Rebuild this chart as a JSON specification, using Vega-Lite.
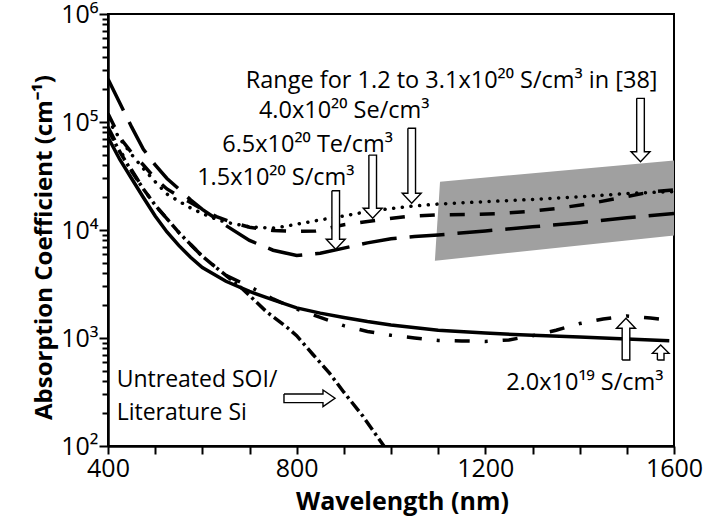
{
  "$schema": "https://vega.github.io/schema/vega-lite/v6.json",
  "width": 566,
  "height": 432,
  "autosize": {"type": "none"},
  "padding": {"left": 108, "top": 14, "right": 41, "bottom": 71},
  "background": "white",
  "config": {
    "view": {"stroke": "black", "strokeWidth": 2},
    "font": "Open Sans"
  },
  "datasets": {
    "band": [
      {"wl": 1093, "top": 5200, "bot": 5200},
      {"wl": 1104, "top": 28000, "bot": 5260},
      {"wl": 1600, "top": 44000, "bot": 8900}
    ],
    "curves": [
      {"s": "S15", "wl": 400, "a": 250000}, {"s": "S15", "wl": 425, "a": 150000}, {"s": "S15", "wl": 450, "a": 90000},
      {"s": "S15", "wl": 475, "a": 56000}, {"s": "S15", "wl": 500, "a": 40000}, {"s": "S15", "wl": 525, "a": 30000},
      {"s": "S15", "wl": 550, "a": 24000}, {"s": "S15", "wl": 575, "a": 19000}, {"s": "S15", "wl": 600, "a": 15500},
      {"s": "S15", "wl": 650, "a": 11000}, {"s": "S15", "wl": 700, "a": 8000}, {"s": "S15", "wl": 750, "a": 6500},
      {"s": "S15", "wl": 800, "a": 5800}, {"s": "S15", "wl": 850, "a": 6100}, {"s": "S15", "wl": 900, "a": 6800},
      {"s": "S15", "wl": 950, "a": 7600}, {"s": "S15", "wl": 1000, "a": 8300}, {"s": "S15", "wl": 1050, "a": 8700},
      {"s": "S15", "wl": 1100, "a": 9000}, {"s": "S15", "wl": 1200, "a": 9800}, {"s": "S15", "wl": 1300, "a": 10700},
      {"s": "S15", "wl": 1400, "a": 11700}, {"s": "S15", "wl": 1500, "a": 13000}, {"s": "S15", "wl": 1600, "a": 14200},

      {"s": "Te", "wl": 400, "a": 120000}, {"s": "Te", "wl": 425, "a": 72000}, {"s": "Te", "wl": 450, "a": 52000},
      {"s": "Te", "wl": 475, "a": 40000}, {"s": "Te", "wl": 500, "a": 30000}, {"s": "Te", "wl": 525, "a": 24000},
      {"s": "Te", "wl": 550, "a": 20500}, {"s": "Te", "wl": 575, "a": 18000}, {"s": "Te", "wl": 600, "a": 15500},
      {"s": "Te", "wl": 630, "a": 13300}, {"s": "Te", "wl": 665, "a": 11700}, {"s": "Te", "wl": 700, "a": 10600},
      {"s": "Te", "wl": 750, "a": 9900}, {"s": "Te", "wl": 800, "a": 9700}, {"s": "Te", "wl": 840, "a": 9800},
      {"s": "Te", "wl": 900, "a": 11200}, {"s": "Te", "wl": 970, "a": 12300}, {"s": "Te", "wl": 1030, "a": 13300},
      {"s": "Te", "wl": 1100, "a": 13800}, {"s": "Te", "wl": 1160, "a": 13900}, {"s": "Te", "wl": 1230, "a": 14200},
      {"s": "Te", "wl": 1290, "a": 14800}, {"s": "Te", "wl": 1350, "a": 15800}, {"s": "Te", "wl": 1420, "a": 17500},
      {"s": "Te", "wl": 1490, "a": 20000}, {"s": "Te", "wl": 1550, "a": 22500}, {"s": "Te", "wl": 1600, "a": 23500},

      {"s": "Se", "wl": 400, "a": 105000}, {"s": "Se", "wl": 425, "a": 70000}, {"s": "Se", "wl": 450, "a": 50000},
      {"s": "Se", "wl": 475, "a": 37000}, {"s": "Se", "wl": 500, "a": 28000}, {"s": "Se", "wl": 525, "a": 21500},
      {"s": "Se", "wl": 550, "a": 18500}, {"s": "Se", "wl": 575, "a": 16000}, {"s": "Se", "wl": 600, "a": 14200},
      {"s": "Se", "wl": 625, "a": 12800}, {"s": "Se", "wl": 650, "a": 11800}, {"s": "Se", "wl": 700, "a": 10700},
      {"s": "Se", "wl": 750, "a": 10400}, {"s": "Se", "wl": 775, "a": 10800}, {"s": "Se", "wl": 800, "a": 11300},
      {"s": "Se", "wl": 850, "a": 12400}, {"s": "Se", "wl": 900, "a": 13500}, {"s": "Se", "wl": 950, "a": 14800},
      {"s": "Se", "wl": 1000, "a": 15800}, {"s": "Se", "wl": 1050, "a": 16700}, {"s": "Se", "wl": 1100, "a": 17400},
      {"s": "Se", "wl": 1200, "a": 18300}, {"s": "Se", "wl": 1300, "a": 19200}, {"s": "Se", "wl": 1400, "a": 20300},
      {"s": "Se", "wl": 1450, "a": 21000}, {"s": "Se", "wl": 1500, "a": 21800}, {"s": "Se", "wl": 1600, "a": 22700},

      {"s": "solid", "wl": 400, "a": 72000}, {"s": "solid", "wl": 425, "a": 45000}, {"s": "solid", "wl": 450, "a": 30000},
      {"s": "solid", "wl": 475, "a": 20000}, {"s": "solid", "wl": 500, "a": 13500}, {"s": "solid", "wl": 525, "a": 9600},
      {"s": "solid", "wl": 550, "a": 7200}, {"s": "solid", "wl": 575, "a": 5600}, {"s": "solid", "wl": 600, "a": 4500},
      {"s": "solid", "wl": 650, "a": 3350}, {"s": "solid", "wl": 700, "a": 2700}, {"s": "solid", "wl": 750, "a": 2250},
      {"s": "solid", "wl": 800, "a": 1900}, {"s": "solid", "wl": 850, "a": 1700}, {"s": "solid", "wl": 900, "a": 1550},
      {"s": "solid", "wl": 950, "a": 1420}, {"s": "solid", "wl": 1000, "a": 1320}, {"s": "solid", "wl": 1100, "a": 1180},
      {"s": "solid", "wl": 1200, "a": 1110}, {"s": "solid", "wl": 1300, "a": 1060}, {"s": "solid", "wl": 1400, "a": 1020},
      {"s": "solid", "wl": 1500, "a": 980}, {"s": "solid", "wl": 1590, "a": 945},

      {"s": "dd", "wl": 400, "a": 90000}, {"s": "dd", "wl": 425, "a": 55000}, {"s": "dd", "wl": 450, "a": 36000},
      {"s": "dd", "wl": 475, "a": 24000}, {"s": "dd", "wl": 500, "a": 17000}, {"s": "dd", "wl": 550, "a": 9500},
      {"s": "dd", "wl": 600, "a": 5700}, {"s": "dd", "wl": 650, "a": 3800}, {"s": "dd", "wl": 700, "a": 3000},
      {"s": "dd", "wl": 750, "a": 2300}, {"s": "dd", "wl": 800, "a": 1850}, {"s": "dd", "wl": 850, "a": 1550},
      {"s": "dd", "wl": 900, "a": 1300}, {"s": "dd", "wl": 950, "a": 1150}, {"s": "dd", "wl": 1000, "a": 1060},
      {"s": "dd", "wl": 1050, "a": 1000}, {"s": "dd", "wl": 1100, "a": 950}, {"s": "dd", "wl": 1150, "a": 940},
      {"s": "dd", "wl": 1200, "a": 930}, {"s": "dd", "wl": 1250, "a": 960}, {"s": "dd", "wl": 1300, "a": 1050},
      {"s": "dd", "wl": 1350, "a": 1180}, {"s": "dd", "wl": 1400, "a": 1360}, {"s": "dd", "wl": 1450, "a": 1500},
      {"s": "dd", "wl": 1500, "a": 1600}, {"s": "dd", "wl": 1550, "a": 1530}, {"s": "dd", "wl": 1590, "a": 1460},

      {"s": "Si", "wl": 400, "a": 85000}, {"s": "Si", "wl": 425, "a": 53000}, {"s": "Si", "wl": 450, "a": 35000},
      {"s": "Si", "wl": 475, "a": 24000}, {"s": "Si", "wl": 500, "a": 17000}, {"s": "Si", "wl": 550, "a": 9500},
      {"s": "Si", "wl": 600, "a": 5700}, {"s": "Si", "wl": 650, "a": 3800}, {"s": "Si", "wl": 687, "a": 2800},
      {"s": "Si", "wl": 736, "a": 1750}, {"s": "Si", "wl": 780, "a": 1250}, {"s": "Si", "wl": 800, "a": 1050},
      {"s": "Si", "wl": 835, "a": 700}, {"s": "Si", "wl": 870, "a": 470}, {"s": "Si", "wl": 900, "a": 315},
      {"s": "Si", "wl": 940, "a": 190}, {"s": "Si", "wl": 985, "a": 100}
    ],
    "arrows": [
      {"id": "range", "k": 0, "wl": 1520.9, "a": 165600}, {"id": "range", "k": 1, "wl": 1537.1, "a": 165600},
      {"id": "range", "k": 2, "wl": 1537.1, "a": 53100}, {"id": "range", "k": 3, "wl": 1549.1, "a": 53100},
      {"id": "range", "k": 4, "wl": 1529, "a": 42900}, {"id": "range", "k": 5, "wl": 1508.9, "a": 53100},
      {"id": "range", "k": 6, "wl": 1520.9, "a": 53100}, {"id": "range", "k": 7, "wl": 1520.9, "a": 165600},

      {"id": "se", "k": 0, "wl": 1035.8, "a": 87500}, {"id": "se", "k": 1, "wl": 1052.0, "a": 87500},
      {"id": "se", "k": 2, "wl": 1052.0, "a": 21900}, {"id": "se", "k": 3, "wl": 1064.0, "a": 21900},
      {"id": "se", "k": 4, "wl": 1043.9, "a": 17670}, {"id": "se", "k": 5, "wl": 1023.8, "a": 21900},
      {"id": "se", "k": 6, "wl": 1035.8, "a": 21900}, {"id": "se", "k": 7, "wl": 1035.8, "a": 87500},

      {"id": "te", "k": 0, "wl": 953.1, "a": 49400}, {"id": "te", "k": 1, "wl": 969.3, "a": 49400},
      {"id": "te", "k": 2, "wl": 969.3, "a": 15900}, {"id": "te", "k": 3, "wl": 981.3, "a": 15900},
      {"id": "te", "k": 4, "wl": 961.2, "a": 12830}, {"id": "te", "k": 5, "wl": 941.1, "a": 15900},
      {"id": "te", "k": 6, "wl": 953.1, "a": 15900}, {"id": "te", "k": 7, "wl": 953.1, "a": 49400},

      {"id": "s15", "k": 0, "wl": 874.7, "a": 23100}, {"id": "s15", "k": 1, "wl": 890.9, "a": 23100},
      {"id": "s15", "k": 2, "wl": 890.9, "a": 8200}, {"id": "s15", "k": 3, "wl": 902.9, "a": 8200},
      {"id": "s15", "k": 4, "wl": 882.8, "a": 6620}, {"id": "s15", "k": 5, "wl": 862.7, "a": 8200},
      {"id": "s15", "k": 6, "wl": 874.7, "a": 8200}, {"id": "s15", "k": 7, "wl": 874.7, "a": 23100},

      {"id": "up1", "k": 0, "wl": 1490.1, "a": 625}, {"id": "up1", "k": 1, "wl": 1506.3, "a": 625},
      {"id": "up1", "k": 2, "wl": 1506.3, "a": 1230}, {"id": "up1", "k": 3, "wl": 1518.3, "a": 1230},
      {"id": "up1", "k": 4, "wl": 1498.2, "a": 1520}, {"id": "up1", "k": 5, "wl": 1478.1, "a": 1230},
      {"id": "up1", "k": 6, "wl": 1490.1, "a": 1230}, {"id": "up1", "k": 7, "wl": 1490.1, "a": 625},

      {"id": "up2", "k": 0, "wl": 1564.8, "a": 625}, {"id": "up2", "k": 1, "wl": 1578.8, "a": 625},
      {"id": "up2", "k": 2, "wl": 1578.8, "a": 721}, {"id": "up2", "k": 3, "wl": 1589.4, "a": 721},
      {"id": "up2", "k": 4, "wl": 1571.8, "a": 861}, {"id": "up2", "k": 5, "wl": 1554.2, "a": 721},
      {"id": "up2", "k": 6, "wl": 1564.8, "a": 721}, {"id": "up2", "k": 7, "wl": 1564.8, "a": 625},

      {"id": "right", "k": 0, "wl": 773.1, "a": 303}, {"id": "right", "k": 1, "wl": 855.8, "a": 303},
      {"id": "right", "k": 2, "wl": 855.8, "a": 330}, {"id": "right", "k": 3, "wl": 881.3, "a": 276.5},
      {"id": "right", "k": 4, "wl": 855.8, "a": 231.7}, {"id": "right", "k": 5, "wl": 855.8, "a": 252},
      {"id": "right", "k": 6, "wl": 773.1, "a": 252}, {"id": "right", "k": 7, "wl": 773.1, "a": 303}
    ],
    "labels": [
      {"t": "Range for 1.2 to 3.1x10²⁰ S/cm³ in [38]", "wl": 1128.6, "a": 207000, "pos": "center"},
      {"t": "4.0x10²⁰ Se/cm³", "wl": 900.7, "a": 108000, "pos": "center"},
      {"t": "6.5x10²⁰ Te/cm³", "wl": 823, "a": 53100, "pos": "center"},
      {"t": "1.5x10²⁰ S/cm³", "wl": 755.8, "a": 26100, "pos": "center"},
      {"t": "2.0x10¹⁹ S/cm³", "wl": 1411, "a": 330, "pos": "center"},
      {"t": "Untreated SOI/", "wl": 418.4, "a": 354, "pos": "left"},
      {"t": "Literature Si", "wl": 418.4, "a": 174, "pos": "left"}
    ]
  },
  "encoding": {
    "x": {
      "field": "wl", "type": "quantitative",
      "scale": {"domain": [400, 1600], "nice": false, "zero": false},
      "axis": {
        "title": "Wavelength (nm)",
        "values": [400, 500, 600, 700, 800, 900, 1000, 1100, 1200, 1300, 1400, 1500, 1600],
        "format": "d",
        "labelExpr": "datum.value % 400 == 0 ? datum.label : ''",
        "grid": false, "tickSize": 8, "tickWidth": 2, "tickColor": "black",
        "domainColor": "black", "domainWidth": 2.5,
        "labelFont": "Open Sans", "labelFontSize": 25, "labelColor": "black", "labelPadding": 2,
        "labelFlush": false, "labelOverlap": false,
        "titleFont": "Open Sans", "titleFontSize": 25, "titleFontWeight": "bold", "titleColor": "black",
        "titleX": 294, "titleY": 63, "titleBaseline": "alphabetic", "titleAlign": "center"
      }
    },
    "y": {
      "field": "a", "type": "quantitative",
      "scale": {"type": "log", "domain": [100, 1000000], "nice": false},
      "axis": {
        "title": "Absorption Coefficient (cm⁻¹)",
        "values": [100, 200, 300, 400, 500, 600, 700, 800, 900, 1000, 2000, 3000, 4000, 5000, 6000, 7000, 8000, 9000, 10000, 20000, 30000, 40000, 50000, 60000, 70000, 80000, 90000, 100000, 200000, 300000, 400000, 500000, 600000, 700000, 800000, 900000, 1000000],
        "labelExpr": "datum.value == 100 ? '10²' : datum.value == 1000 ? '10³' : datum.value == 10000 ? '10⁴' : datum.value == 100000 ? '10⁵' : datum.value == 1000000 ? '10⁶' : ''",
        "grid": false,
        "tickSize": {"condition": {"test": "datum.value == 100 || datum.value == 1000 || datum.value == 10000 || datum.value == 100000 || datum.value == 1000000", "value": 9}, "value": 6},
        "tickWidth": 2, "tickColor": "black",
        "domainColor": "black", "domainWidth": 2.5,
        "labelFont": "Open Sans", "labelFontSize": 25, "labelColor": "black", "labelPadding": 1,
        "labelFlush": false, "labelOverlap": false,
        "titleFont": "Open Sans", "titleFontSize": 24, "titleFontWeight": "bold", "titleColor": "black",
        "titleX": -57, "titleY": 233, "titleBaseline": "alphabetic", "titleAlign": "center", "titleAngle": -90
      }
    }
  },
  "layer": [
    {
      "data": {"name": "band"},
      "mark": {"type": "area", "color": "#a0a0a0", "opacity": 1, "clip": true},
      "encoding": {"y": {"field": "top", "type": "quantitative"}, "y2": {"field": "bot"}}
    },
    {
      "data": {"name": "curves"},
      "transform": [{"filter": "datum.s == 'solid'"}],
      "mark": {"type": "line", "color": "black", "strokeWidth": 3.5, "clip": true}
    },
    {
      "data": {"name": "curves"},
      "transform": [{"filter": "datum.s == 'dd'"}],
      "mark": {"type": "line", "color": "black", "strokeWidth": 3.5, "strokeDash": [15, 15, 3, 15], "clip": true}
    },
    {
      "data": {"name": "curves"},
      "transform": [{"filter": "datum.s == 'Si'"}],
      "mark": {"type": "line", "color": "black", "strokeWidth": 3.5, "strokeDash": [12, 4, 3, 4], "clip": true}
    },
    {
      "data": {"name": "curves"},
      "transform": [{"filter": "datum.s == 'S15'"}],
      "mark": {"type": "line", "color": "black", "strokeWidth": 3.5, "strokeDash": [35, 13], "clip": true}
    },
    {
      "data": {"name": "curves"},
      "transform": [{"filter": "datum.s == 'Te'"}],
      "mark": {"type": "line", "color": "black", "strokeWidth": 3.5, "strokeDash": [15, 15], "clip": true}
    },
    {
      "data": {"name": "curves"},
      "transform": [{"filter": "datum.s == 'Se'"}],
      "mark": {"type": "line", "color": "black", "strokeWidth": 3.5, "strokeCap": "round", "strokeDash": [0.1, 8.6], "clip": true}
    },
    {
      "data": {"name": "arrows"},
      "mark": {"type": "line", "stroke": "black", "fill": "white", "strokeWidth": 1.4, "strokeJoin": "miter"},
      "encoding": {"detail": {"field": "id"}, "order": {"field": "k", "type": "quantitative"}}
    },
    {
      "data": {"name": "labels"},
      "transform": [{"filter": "datum.pos == 'center'"}],
      "mark": {"type": "text", "font": "Open Sans", "fontSize": 23.5, "align": "center", "baseline": "alphabetic", "color": "black"},
      "encoding": {"text": {"field": "t"}}
    },
    {
      "data": {"name": "labels"},
      "transform": [{"filter": "datum.pos == 'left'"}],
      "mark": {"type": "text", "font": "Open Sans", "fontSize": 23, "align": "left", "baseline": "alphabetic", "color": "black"},
      "encoding": {"text": {"field": "t"}}
    }
  ]
}
